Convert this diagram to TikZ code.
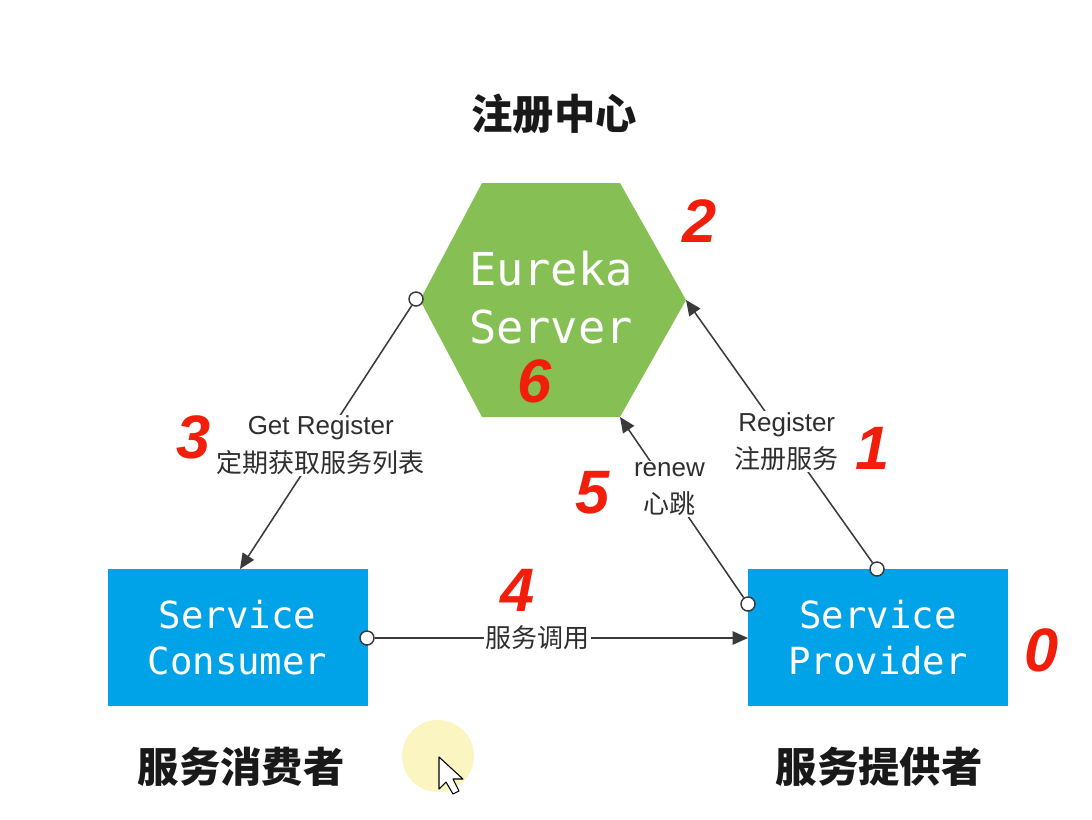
\documentclass[tikz,border=0pt]{standalone}
\usepackage{fontspec}
\setmainfont{Liberation Sans}
\newfontfamily\cjk{Noto Sans CJK SC}
\newfontfamily\monof{DejaVu Sans Mono}
\usetikzlibrary{arrows.meta}
\definecolor{greenc}{HTML}{86BF54}
\definecolor{bluec}{HTML}{00A2E8}
\definecolor{redc}{HTML}{F01E0A}
\definecolor{linec}{HTML}{3A3A3A}
\definecolor{textc}{HTML}{2E2E2E}
\definecolor{hilite}{HTML}{FBF5C2}
\tikzset{
  conn/.style={draw=linec, line width=1.15pt, -{Triangle[length=11.5pt,width=10pt]}},
  port/.style={circle, draw=linec, fill=white, line width=1.1pt, minimum size=10.5pt, inner sep=0pt},
  lbl/.style={fill=white, inner sep=1pt, align=center, text=textc, font=\fontsize{19.5pt}{28pt}\selectfont},
  svc/.style={fill=bluec, minimum width=195pt, minimum height=103pt, inner sep=0pt, align=center, text=white, font=\monof\fontsize{28pt}{35pt}\selectfont},
  num/.style={text=redc, font=\fontsize{46pt}{46pt}\selectfont\bfseries\itshape},
  ttl/.style={text=black!90, font=\cjk\bfseries\fontsize{31pt}{31pt}\selectfont},
}
\begin{document}
\begin{tikzpicture}[x=0.75pt,y=-0.75pt]
\fill[white] (0,0) rectangle (1092,819);
\useasboundingbox (0,0) rectangle (1092,819);

% titles
\node[ttl] (tReg) at (554,114) {注册中心};
\node[ttl] (tCons) at (241,767) {服务消费者};
\node[ttl] (tProv) at (879,767) {服务提供者};

% hexagon
\coordinate (hexL) at (420,300);
\coordinate (hexR) at (686,300);
\coordinate (hexBR) at (620,417);
\fill[greenc] (482,183) -- (620,183) -- (hexR) -- (hexBR) -- (482,417) -- (hexL) -- cycle;
\node[text=white, align=center, font=\monof\fontsize{34pt}{43.5pt}\selectfont] (eureka) at (551,298) {Eureka\\Server};

% service boxes
\node[svc] (cons) at (237.5,637.5) {Service\\Consumer};
\node[svc] (prov) at (878,637.5) {Service\\Provider};

% ports and end points
\node[port] (pGet) at (416,299) {};
\node[port] (pReg) at (877,569) {};
\node[port] (pRenew) at (748,604) {};
\node[port] (pCall) at (367,638) {};
\coordinate (consTop) at (240,569);
\coordinate (provLeft) at (748,638);

% connectors
\draw[conn] (pGet) -- node[lbl, pos=0.53] {Get Register\\{\cjk 定期获取服务列表}} (consTop);
\draw[conn] (pReg) -- node[lbl, pos=0.46] {Register\\{\cjk 注册服务}} (hexR);
\draw[conn] (pRenew) -- node[lbl, pos=0.6] {renew\\{\cjk 心跳}} (hexBR);
\draw[conn] (pCall) -- node[lbl, pos=0.436] {\cjk 服务调用} (provLeft);

% red step numbers
\node[num] (n0) at (1042,650) {0};
\node[num] (n1) at (873,448) {1};
\node[num] (n2) at (700,221) {2};
\node[num] (n3) at (194,437) {3};
\node[num] (n4) at (518,590) {4};
\node[num] (n5) at (593,493) {5};
\node[num] (n6) at (535,381) {6};

% mouse cursor highlight
\fill[hilite] (438,756) circle (36);
\draw[black, line width=0.8pt, fill=white, line join=round]
  (439,757) -- (439,789) -- (446,782) -- (453,794) -- (459,791) -- (453,779) -- (463,779) -- cycle;
\end{tikzpicture}
\end{document}
